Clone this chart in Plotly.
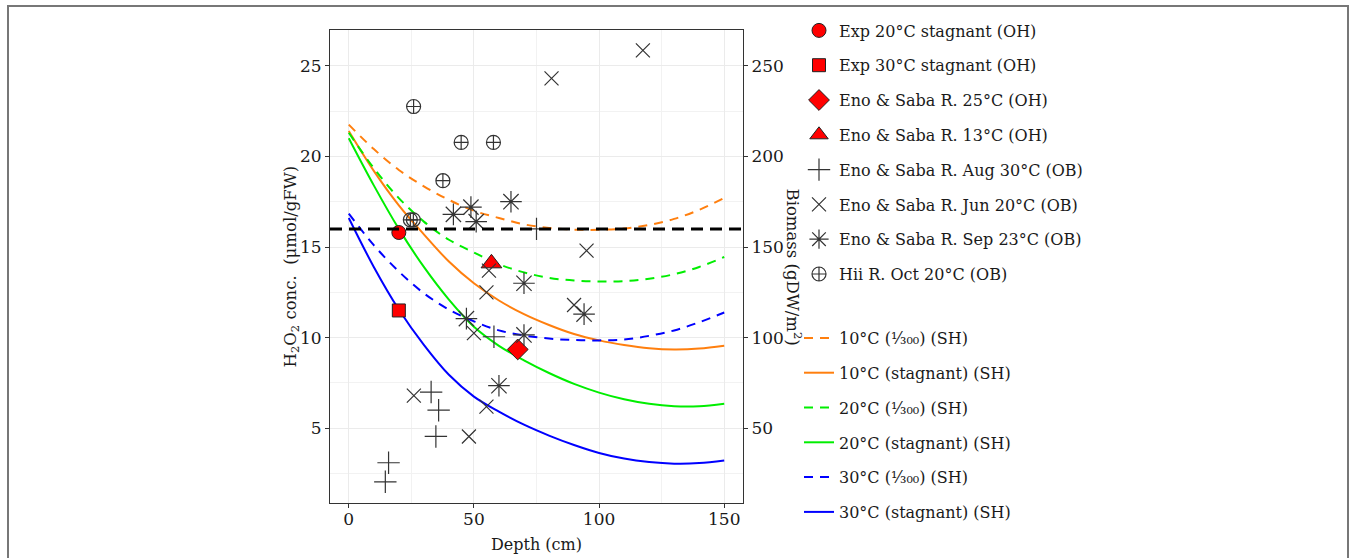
import plotly.graph_objects as go

# ---------------- data ----------------
DEPTH = [0, 10, 20, 30, 40, 50, 60, 70, 80, 90, 100, 110, 120, 130, 140, 150]

C10_FLOW = [21.75, 20.4, 19.25, 18.35, 17.6, 17.0, 16.6, 16.25, 16.05, 15.96, 15.95, 16.02, 16.22, 16.55, 17.05, 17.7]
C10_STAG = [21.4, 19.2, 17.3, 15.7, 14.2, 13.0, 12.05, 11.3, 10.7, 10.2, 9.85, 9.6, 9.42, 9.35, 9.4, 9.56]
C20_FLOW = [21.3, 19.35, 17.7, 16.4, 15.4, 14.7, 14.05, 13.6, 13.3, 13.15, 13.1, 13.12, 13.25, 13.5, 13.9, 14.45]
C20_STAG = [21.0, 18.4, 16.0, 13.9, 12.1, 10.6, 9.55, 8.75, 8.05, 7.45, 6.97, 6.6, 6.35, 6.22, 6.22, 6.36]
C30_FLOW = [16.84, 15.1, 13.65, 12.45, 11.55, 10.9, 10.4, 10.12, 9.95, 9.87, 9.85, 9.9, 10.1, 10.4, 10.85, 11.39]
C30_STAG = [16.6, 13.9, 11.55, 9.6, 7.95, 6.75, 5.92, 5.2, 4.6, 4.08, 3.64, 3.33, 3.14, 3.05, 3.08, 3.23]

EXP20_X, EXP20_Y = [20], [15.8]
EXP30_X, EXP30_Y = [20], [11.5]
ENO25_X, ENO25_Y = [67.5], [9.35]
ENO13_X, ENO13_Y = [57], [14.1]
AUG30_X = [14.6, 15.9, 32.9, 34.8, 35.9, 58, 75]
AUG30_Y = [2.05, 3.1, 7.0, 4.55, 6.0, 10.05, 16.0]
JUN20_X = [26, 48, 55, 50, 55, 56, 81, 117.5, 95, 90]
JUN20_Y = [6.8, 4.55, 6.2, 10.25, 12.5, 13.7, 24.3, 25.85, 14.8, 11.8]
SEP23_X = [41.8, 48.8, 50.9, 64.8, 70, 94, 47, 70, 60]
SEP23_Y = [16.8, 17.2, 16.4, 17.5, 13.0, 11.3, 11.05, 10.15, 7.35]
HII_X = [25.9, 44.9, 57.8, 37.6, 24.6, 25.8]
HII_Y = [22.75, 20.77, 20.77, 18.66, 16.5, 16.5]

THRESHOLD = 16
X_RANGE = [-7.5, 157.5]
Y_RANGE = [0.88, 26.97]
BIOMASS_FACTOR = 10

# ---------------- layout helpers ----------------
W, H = 1356, 558
PL, PR, PT, PB = 330, 743, 30, 503  # plot area in pixels
def px(x):
    return (x - PL) / (PR - PL)
def py(y):
    return (PB - y) / (PB - PT)

FONT = "DejaVu Serif"
TXT = "#1A1A1A"
ORANGE, GREEN, BLUE = "#FF7F0E", "#00EE00", "#0000FF"
DASH = "9px,7px"

fig = go.Figure()

curves = [
    ("10°C (¹⁄₃₀₀) (SH)", C10_FLOW, ORANGE, DASH),
    ("10°C (stagnant) (SH)", C10_STAG, ORANGE, "solid"),
    ("20°C (¹⁄₃₀₀) (SH)", C20_FLOW, GREEN, DASH),
    ("20°C (stagnant) (SH)", C20_STAG, GREEN, "solid"),
    ("30°C (¹⁄₃₀₀) (SH)", C30_FLOW, BLUE, DASH),
    ("30°C (stagnant) (SH)", C30_STAG, BLUE, "solid"),
]
for i, (name, vals, col, dash) in enumerate(curves):
    fig.add_trace(go.Scatter(
        x=DEPTH, y=vals, mode="lines", name=name,
        line=dict(color=col, width=2, dash=dash, shape="spline", smoothing=1.0),
        legend="legend2", legendgroup=f"c{i}"))

INK = "#333333"
points = [
    ("Exp 20°C stagnant (OH)", EXP20_X, EXP20_Y, "circle", 14, "red", 1),
    ("Exp 30°C stagnant (OH)", EXP30_X, EXP30_Y, "square", 13, "red", 1),
    ("Eno & Saba R. 25°C (OH)", ENO25_X, ENO25_Y, "diamond", 16, "red", 1),
    ("Eno & Saba R. 13°C (OH)", ENO13_X, ENO13_Y, "triangle-up", 18, "red", 1),
    ("Eno & Saba R. Aug 30°C (OB)", AUG30_X, AUG30_Y, "cross-thin-open", 16, INK, 1.2),
    ("Eno & Saba R. Jun 20°C (OB)", JUN20_X, JUN20_Y, "x-thin-open", 14, INK, 1.2),
    ("Eno & Saba R. Sep 23°C (OB)", SEP23_X, SEP23_Y, "asterisk-open", 18, INK, 1.2),
    ("Hii R. Oct 20°C (OB)", HII_X, HII_Y, "circle-cross-open", 14, INK, 1.2),
]
for i, (name, xs, ys, sym, size, col, lw) in enumerate(points):
    if col == "red":
        marker = dict(symbol=sym, size=size, color="#FF0000", line=dict(color="#222222", width=lw))
    else:
        marker = dict(symbol=sym, size=size, color=col, line=dict(color=col, width=lw))
    fig.add_trace(go.Scatter(x=xs, y=ys, mode="markers", name=name, marker=marker,
                             legend="legend", legendgroup=f"p{i}"))

# secondary (biomass) axis, carrying an empty trace so it is drawn
fig.add_trace(go.Scatter(x=[None], y=[None], yaxis="y2", showlegend=False, hoverinfo="skip"))

fig.add_hline(y=THRESHOLD, line=dict(color="black", width=3, dash="12px,7px"))

axis_common = dict(
    showline=True, linecolor=INK, linewidth=1, mirror=True,
    ticks="outside", ticklen=4, tickcolor=INK, tickwidth=1,
    showgrid=True, gridcolor="#EBEBEB", gridwidth=1.2,
    zeroline=False, tickfont=dict(family=FONT, size=17, color=TXT),
)
fig.update_layout(
    width=W, height=H,
    margin=dict(l=PL, r=W - PR, t=PT, b=H - PB),
    paper_bgcolor="white", plot_bgcolor="white",
    font=dict(family=FONT, size=16, color=TXT),
    xaxis=dict(range=X_RANGE, tick0=0, dtick=50, ticklabelstandoff=-3,
               minor=dict(showgrid=True, dtick=25, gridcolor="#F2F2F2", gridwidth=1), **axis_common),
    yaxis=dict(range=Y_RANGE, tick0=0, dtick=5,
               minor=dict(showgrid=True, dtick=2.5, gridcolor="#F2F2F2", gridwidth=1), **axis_common),
    yaxis2=dict(overlaying="y", side="right", range=[v * BIOMASS_FACTOR for v in Y_RANGE],
                tick0=0, dtick=50, showgrid=False, showline=False, zeroline=False,
                ticks="outside", ticklen=4, tickcolor=INK,
                tickfont=dict(family=FONT, size=17, color=TXT)),
    legend=dict(x=px(799), y=py(152.5), xanchor="left", yanchor="middle",
                traceorder="grouped", tracegroupgap=11, bgcolor="rgba(0,0,0,0)",
                font=dict(family=FONT, size=16, color=TXT), itemsizing="trace"),
    legend2=dict(x=px(799), y=py(321), xanchor="left", yanchor="top",
                 traceorder="grouped", tracegroupgap=11, bgcolor="rgba(0,0,0,0)",
                 font=dict(family=FONT, size=16, color=TXT)),
    showlegend=True,
)

fig.add_annotation(text="Depth (cm)", xref="paper", yref="paper", x=0.5, y=py(544),
                   xanchor="center", yanchor="middle", showarrow=False,
                   font=dict(family=FONT, size=16, color=TXT))
fig.add_annotation(text="H<sub>2</sub>O<sub>2</sub> conc.  (μmol/gFW)", xref="paper", yref="paper",
                   x=px(291), y=0.5, xanchor="center", yanchor="middle", textangle=-90,
                   showarrow=False, font=dict(family=FONT, size=16.5, color=TXT))
fig.add_annotation(text="Biomass (gDW/m<sup>2</sup>)", xref="paper", yref="paper",
                   x=px(794), y=0.5, xanchor="center", yanchor="middle", textangle=90,
                   showarrow=False, font=dict(family=FONT, size=16.5, color=TXT))

# outer figure frame
fig.add_shape(type="rect", xref="paper", yref="paper",
              x0=px(8), x1=px(1348), y0=py(575), y1=py(6),
              line=dict(color="#777777", width=2), layer="below")

fig.write_html("out.html")
